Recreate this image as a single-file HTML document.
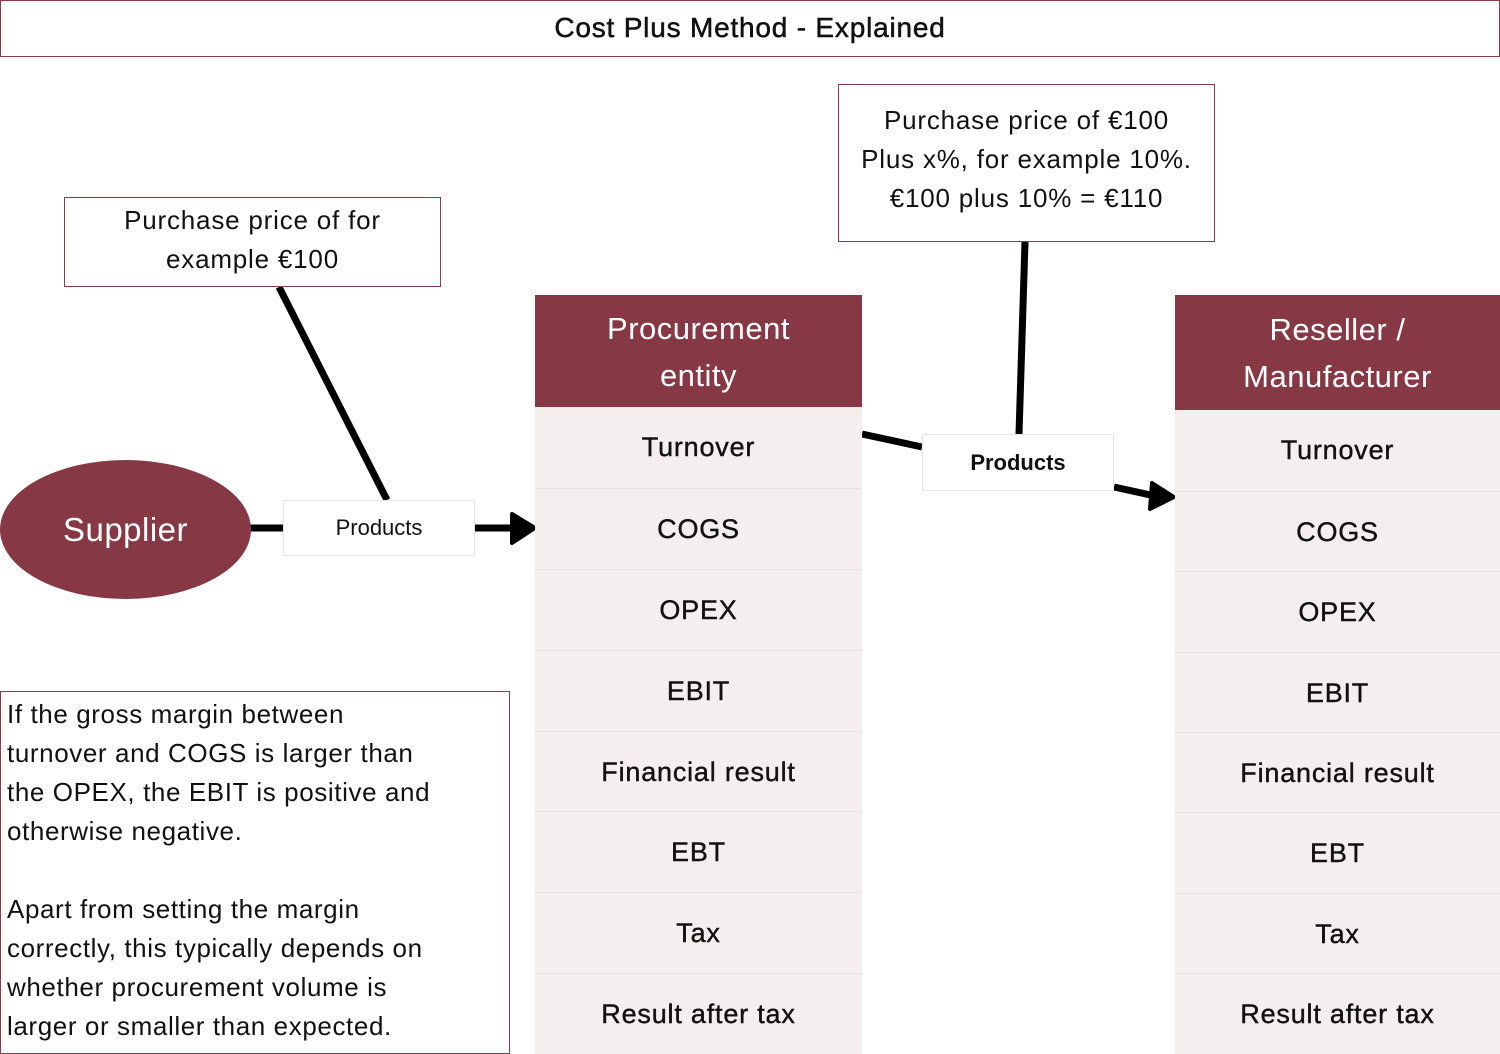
<!DOCTYPE html>
<html><head><meta charset="utf-8"><style>
body{margin:0;width:1500px;height:1054px;position:relative;background:#fff;font-family:"Liberation Sans",sans-serif;color:#111;overflow:hidden}
.a{position:absolute;box-sizing:border-box}
.box{border:1.5px solid #8a3a48;background:#fff;text-align:center}
.hdr{background:#873845;color:#fff;font-size:31px;display:flex;align-items:center;justify-content:center;text-align:center;line-height:47px;letter-spacing:.5px}
.row{background:#f4eeef;border-top:1.5px solid #e6dfe0;font-size:27px;display:flex;align-items:center;justify-content:center;letter-spacing:.8px;-webkit-text-stroke:.4px #111}
.lbl{background:#fff;border:1px solid #e6e6e6;display:flex;align-items:center;justify-content:center;font-size:22px}
</style></head><body>
<svg class="a" style="left:0;top:0" width="1500" height="1054">
<g stroke="#000" stroke-width="7" fill="none">
<line x1="279" y1="287" x2="387" y2="500"/>
<line x1="250" y1="528" x2="283" y2="528"/>
<line x1="475" y1="528" x2="515" y2="528"/>
<line x1="862" y1="434" x2="922" y2="447"/>
<line x1="1025" y1="242" x2="1019" y2="434"/>
<line x1="1114" y1="487" x2="1155" y2="496"/>
</g>
<polygon points="512,514 535,528 512,543" fill="#000" stroke="#000" stroke-width="4" stroke-linejoin="round"/>
<polygon points="1152,483 1174,497 1150,509" fill="#000" stroke="#000" stroke-width="4" stroke-linejoin="round"/>
</svg>
<div class="a box" style="left:0;top:0;width:1500px;height:57px;font-size:28px;line-height:54px;letter-spacing:.8px;-webkit-text-stroke:.5px #111">Cost Plus Method - Explained</div>
<div class="a box" style="left:64px;top:197px;width:377px;height:90px;font-size:26px;line-height:39px;padding-top:3px;letter-spacing:.8px">Purchase price of for<br>example €100</div>
<div class="a box" style="left:838px;top:84px;width:377px;height:158px;font-size:26px;line-height:39px;padding-top:16px;letter-spacing:.8px">Purchase price of €100<br>Plus x%, for example 10%.<br>€100 plus 10% = €110</div>
<div class="a" style="left:0;top:460px;width:251px;height:139px;border-radius:50%;background:#873845;color:#fff;font-size:33px;display:flex;align-items:center;justify-content:center;letter-spacing:.5px">Supplier</div>
<div class="a lbl" style="left:283px;top:500px;width:192px;height:56px">Products</div>
<div class="a lbl" style="left:922px;top:434px;width:192px;height:57px;font-weight:bold">Products</div>
<div class="a box" style="left:0;top:691px;width:510px;height:363px;text-align:left;font-size:26px;line-height:39px;padding:3px 6px;letter-spacing:.6px;white-space:nowrap">If the gross margin between<br>turnover and COGS is larger than<br>the OPEX, the EBIT is positive and<br>otherwise negative.<br><br>Apart from setting the margin<br>correctly, this typically depends on<br>whether procurement volume is<br>larger or smaller than expected.</div>

<div class="a hdr" style="left:535px;top:295px;width:327px;height:113px">Procurement<br>entity</div>
<div class="a row" style="left:535px;top:407px;width:327px;height:81px;border-top:none">Turnover</div>
<div class="a row" style="left:535px;top:488px;width:327px;height:81px">COGS</div>
<div class="a row" style="left:535px;top:569px;width:327px;height:81px">OPEX</div>
<div class="a row" style="left:535px;top:650px;width:327px;height:81px">EBIT</div>
<div class="a row" style="left:535px;top:731px;width:327px;height:81px">Financial result</div>
<div class="a row" style="left:535px;top:811px;width:327px;height:81px">EBT</div>
<div class="a row" style="left:535px;top:892px;width:327px;height:81px">Tax</div>
<div class="a row" style="left:535px;top:973px;width:327px;height:81px">Result after tax</div>

<div class="a hdr" style="left:1175px;top:295px;width:325px;height:116px">Reseller /<br>Manufacturer</div>
<div class="a row" style="left:1175px;top:410px;width:325px;height:81px;border-top:none">Turnover</div>
<div class="a row" style="left:1175px;top:491px;width:325px;height:81px">COGS</div>
<div class="a row" style="left:1175px;top:571px;width:325px;height:81px">OPEX</div>
<div class="a row" style="left:1175px;top:652px;width:325px;height:81px">EBIT</div>
<div class="a row" style="left:1175px;top:732px;width:325px;height:81px">Financial result</div>
<div class="a row" style="left:1175px;top:812px;width:325px;height:81px">EBT</div>
<div class="a row" style="left:1175px;top:893px;width:325px;height:81px">Tax</div>
<div class="a row" style="left:1175px;top:973px;width:325px;height:81px">Result after tax</div>
</body></html>
